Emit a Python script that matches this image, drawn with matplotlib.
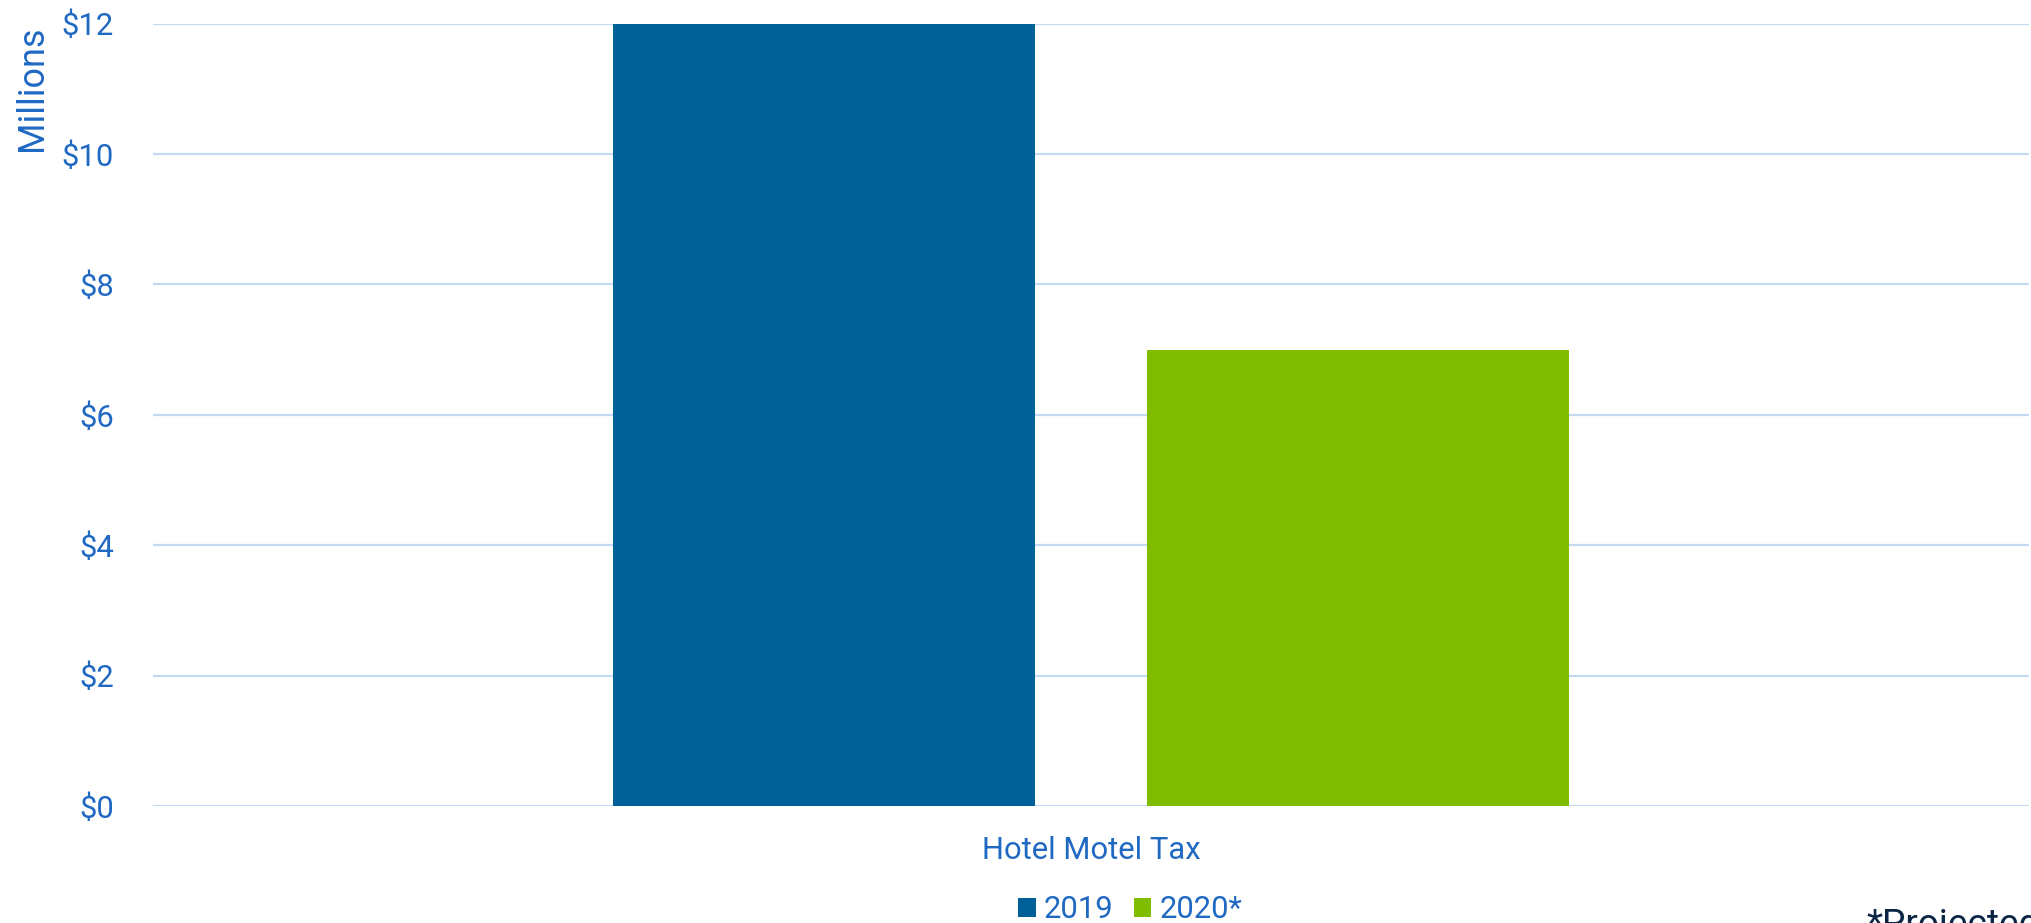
import numpy as np
import matplotlib
import matplotlib.pyplot as plt
from matplotlib.patches import Patch
from matplotlib.ticker import FuncFormatter

matplotlib.use('Agg')

plt.rcParams['font.family'] = ['Roboto', 'DejaVu Sans']

# data (millions of dollars)
category = ["Hotel Motel Tax"]
series_names = ["2019", "2020*"]
values_2019 = [12.0]
values_2020 = [7.0]
y_ticks = [0, 2, 4, 6, 8, 10, 12]

blue = '#006098'
green = '#80BC00'
text_blue = '#1F69C3'
grid_color = '#C4D9F2'
navy = '#0B2545'

W, H, DPI = 2031, 923, 72
fig = plt.figure(figsize=(W / DPI, H / DPI), dpi=DPI)
fig.patch.set_facecolor('white')

# axes placed in pixel terms
left, right, bottom, top = 153, 2029, 806, 23.5
ax = fig.add_axes([left / W, (H - bottom) / H, (right - left) / W, (bottom - top) / H])

x = np.arange(len(category))
bar_w = 0.225
offset = 0.1423
ax.bar(x - offset, values_2019, width=bar_w, color=blue, zorder=3)
ax.bar(x + offset, values_2020, width=bar_w, color=green, zorder=3)

ax.set_xlim(-0.5, 0.5)
ax.set_ylim(0, 12)
ax.set_yticks(y_ticks)
ax.yaxis.set_major_formatter(FuncFormatter(lambda v, p: f"${v:.0f}"))
ax.set_xticks(x)
ax.set_xticklabels(category)

ax.grid(axis='y', color=grid_color, linewidth=2.2, zorder=0)
ax.set_axisbelow(True)
for s in ax.spines.values():
    s.set_visible(False)

ax.tick_params(axis='y', length=0, pad=39, labelsize=31, labelcolor=text_blue)
ax.tick_params(axis='x', length=0, pad=30, labelsize=31, labelcolor=text_blue)

fig.text(32 / W, 1 - 88 / H, "Millions", rotation=90, ha='center', va='center',
         fontsize=36, color=text_blue)

handles = [Patch(facecolor=blue, edgecolor='none'), Patch(facecolor=green, edgecolor='none')]
fig.legend(handles, series_names, loc='center', bbox_to_anchor=(1130 / W, 13 / H),
           ncol=2, frameon=False, fontsize=31, labelcolor=text_blue,
           handlelength=0.58, handleheight=0.58, handletextpad=0.26,
           columnspacing=0.65, borderpad=0, borderaxespad=0)

# footnote runs past the right/bottom edge, as in the source image
fig.text(1866 / W, 1 - 907 / H, "*Projected", ha='left', va='top',
         fontsize=37, color=navy)

fig.savefig('out.png', dpi=DPI, facecolor='white')
